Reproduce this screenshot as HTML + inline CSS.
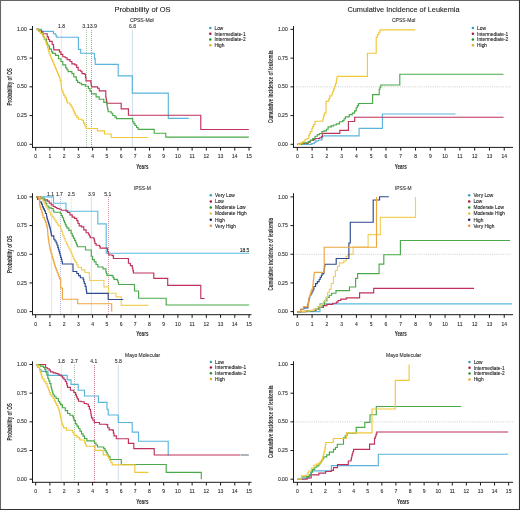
<!DOCTYPE html><html><head><meta charset="utf-8"><style>html,body{margin:0;padding:0;background:#fff;}svg{display:block;will-change:transform;}text{font-family:"Liberation Sans", sans-serif;}</style></head><body>
<svg width="520" height="510" viewBox="0 0 520 510">
<rect x="0" y="0" width="520" height="510" fill="#fff"/>
<text x="142.5" y="12.0" font-size="8.0" text-anchor="middle" fill="#222" font-weight="normal" textLength="56.2" lengthAdjust="spacingAndGlyphs" stroke="#222" stroke-width="0.1">Probability of OS</text>
<text x="403.5" y="12.1" font-size="8.0" text-anchor="middle" fill="#222" font-weight="normal" textLength="112.0" lengthAdjust="spacingAndGlyphs" stroke="#222" stroke-width="0.1">Cumulative Incidence of Leukemia</text>
<line x1="32.5" y1="26.0" x2="32.5" y2="147.9" stroke="#1a1a1a" stroke-width="1"/>
<line x1="32.0" y1="147.4" x2="251.5" y2="147.4" stroke="#1a1a1a" stroke-width="1"/>
<line x1="29.5" y1="144.30" x2="32.5" y2="144.30" stroke="#1a1a1a" stroke-width="1"/>
<text x="26.7" y="145.90" font-size="5" text-anchor="end" fill="#333" font-weight="normal" stroke="#333" stroke-width="0.12">0.00</text>
<line x1="29.5" y1="115.58" x2="32.5" y2="115.58" stroke="#1a1a1a" stroke-width="1"/>
<text x="26.7" y="117.18" font-size="5" text-anchor="end" fill="#333" font-weight="normal" stroke="#333" stroke-width="0.12">0.25</text>
<line x1="29.5" y1="86.85" x2="32.5" y2="86.85" stroke="#1a1a1a" stroke-width="1"/>
<text x="26.7" y="88.45" font-size="5" text-anchor="end" fill="#333" font-weight="normal" stroke="#333" stroke-width="0.12">0.50</text>
<line x1="29.5" y1="58.12" x2="32.5" y2="58.12" stroke="#1a1a1a" stroke-width="1"/>
<text x="26.7" y="59.73" font-size="5" text-anchor="end" fill="#333" font-weight="normal" stroke="#333" stroke-width="0.12">0.75</text>
<line x1="29.5" y1="29.40" x2="32.5" y2="29.40" stroke="#1a1a1a" stroke-width="1"/>
<text x="26.7" y="31.00" font-size="5" text-anchor="end" fill="#333" font-weight="normal" stroke="#333" stroke-width="0.12">1.00</text>
<line x1="35.70" y1="147.4" x2="35.70" y2="150.6" stroke="#1a1a1a" stroke-width="1"/>
<text x="35.70" y="158.30" font-size="5" text-anchor="middle" fill="#333" font-weight="normal" stroke="#333" stroke-width="0.12">0</text>
<line x1="49.92" y1="147.4" x2="49.92" y2="150.6" stroke="#1a1a1a" stroke-width="1"/>
<text x="49.92" y="158.30" font-size="5" text-anchor="middle" fill="#333" font-weight="normal" stroke="#333" stroke-width="0.12">1</text>
<line x1="64.14" y1="147.4" x2="64.14" y2="150.6" stroke="#1a1a1a" stroke-width="1"/>
<text x="64.14" y="158.30" font-size="5" text-anchor="middle" fill="#333" font-weight="normal" stroke="#333" stroke-width="0.12">2</text>
<line x1="78.36" y1="147.4" x2="78.36" y2="150.6" stroke="#1a1a1a" stroke-width="1"/>
<text x="78.36" y="158.30" font-size="5" text-anchor="middle" fill="#333" font-weight="normal" stroke="#333" stroke-width="0.12">3</text>
<line x1="92.58" y1="147.4" x2="92.58" y2="150.6" stroke="#1a1a1a" stroke-width="1"/>
<text x="92.58" y="158.30" font-size="5" text-anchor="middle" fill="#333" font-weight="normal" stroke="#333" stroke-width="0.12">4</text>
<line x1="106.80" y1="147.4" x2="106.80" y2="150.6" stroke="#1a1a1a" stroke-width="1"/>
<text x="106.80" y="158.30" font-size="5" text-anchor="middle" fill="#333" font-weight="normal" stroke="#333" stroke-width="0.12">5</text>
<line x1="121.02" y1="147.4" x2="121.02" y2="150.6" stroke="#1a1a1a" stroke-width="1"/>
<text x="121.02" y="158.30" font-size="5" text-anchor="middle" fill="#333" font-weight="normal" stroke="#333" stroke-width="0.12">6</text>
<line x1="135.24" y1="147.4" x2="135.24" y2="150.6" stroke="#1a1a1a" stroke-width="1"/>
<text x="135.24" y="158.30" font-size="5" text-anchor="middle" fill="#333" font-weight="normal" stroke="#333" stroke-width="0.12">7</text>
<line x1="149.46" y1="147.4" x2="149.46" y2="150.6" stroke="#1a1a1a" stroke-width="1"/>
<text x="149.46" y="158.30" font-size="5" text-anchor="middle" fill="#333" font-weight="normal" stroke="#333" stroke-width="0.12">8</text>
<line x1="163.68" y1="147.4" x2="163.68" y2="150.6" stroke="#1a1a1a" stroke-width="1"/>
<text x="163.68" y="158.30" font-size="5" text-anchor="middle" fill="#333" font-weight="normal" stroke="#333" stroke-width="0.12">9</text>
<line x1="177.90" y1="147.4" x2="177.90" y2="150.6" stroke="#1a1a1a" stroke-width="1"/>
<text x="177.90" y="158.30" font-size="5" text-anchor="middle" fill="#333" font-weight="normal" stroke="#333" stroke-width="0.12">10</text>
<line x1="192.12" y1="147.4" x2="192.12" y2="150.6" stroke="#1a1a1a" stroke-width="1"/>
<text x="192.12" y="158.30" font-size="5" text-anchor="middle" fill="#333" font-weight="normal" stroke="#333" stroke-width="0.12">11</text>
<line x1="206.34" y1="147.4" x2="206.34" y2="150.6" stroke="#1a1a1a" stroke-width="1"/>
<text x="206.34" y="158.30" font-size="5" text-anchor="middle" fill="#333" font-weight="normal" stroke="#333" stroke-width="0.12">12</text>
<line x1="220.56" y1="147.4" x2="220.56" y2="150.6" stroke="#1a1a1a" stroke-width="1"/>
<text x="220.56" y="158.30" font-size="5" text-anchor="middle" fill="#333" font-weight="normal" stroke="#333" stroke-width="0.12">13</text>
<line x1="234.78" y1="147.4" x2="234.78" y2="150.6" stroke="#1a1a1a" stroke-width="1"/>
<text x="234.78" y="158.30" font-size="5" text-anchor="middle" fill="#333" font-weight="normal" stroke="#333" stroke-width="0.12">14</text>
<line x1="249.00" y1="147.4" x2="249.00" y2="150.6" stroke="#1a1a1a" stroke-width="1"/>
<text x="249.00" y="158.30" font-size="5" text-anchor="middle" fill="#333" font-weight="normal" stroke="#333" stroke-width="0.12">15</text>
<text x="142.35" y="168.70" font-size="6.6" text-anchor="middle" fill="#222" font-weight="bold" textLength="12.2" lengthAdjust="spacingAndGlyphs">Years</text>
<text x="0" y="0" font-size="6.3" text-anchor="middle" fill="#2a2a2a" font-weight="bold" textLength="37.3" lengthAdjust="spacingAndGlyphs" transform="translate(11.90,86.85) rotate(-90)">Probability of OS</text>
<line x1="293.5" y1="26.0" x2="293.5" y2="147.9" stroke="#1a1a1a" stroke-width="1"/>
<line x1="293.0" y1="147.4" x2="513.0" y2="147.4" stroke="#1a1a1a" stroke-width="1"/>
<line x1="290.5" y1="144.30" x2="293.5" y2="144.30" stroke="#1a1a1a" stroke-width="1"/>
<text x="287.7" y="145.90" font-size="5" text-anchor="end" fill="#333" font-weight="normal" stroke="#333" stroke-width="0.12">0.00</text>
<line x1="290.5" y1="115.58" x2="293.5" y2="115.58" stroke="#1a1a1a" stroke-width="1"/>
<text x="287.7" y="117.18" font-size="5" text-anchor="end" fill="#333" font-weight="normal" stroke="#333" stroke-width="0.12">0.25</text>
<line x1="290.5" y1="86.85" x2="293.5" y2="86.85" stroke="#1a1a1a" stroke-width="1"/>
<text x="287.7" y="88.45" font-size="5" text-anchor="end" fill="#333" font-weight="normal" stroke="#333" stroke-width="0.12">0.50</text>
<line x1="290.5" y1="58.12" x2="293.5" y2="58.12" stroke="#1a1a1a" stroke-width="1"/>
<text x="287.7" y="59.73" font-size="5" text-anchor="end" fill="#333" font-weight="normal" stroke="#333" stroke-width="0.12">0.75</text>
<line x1="290.5" y1="29.40" x2="293.5" y2="29.40" stroke="#1a1a1a" stroke-width="1"/>
<text x="287.7" y="31.00" font-size="5" text-anchor="end" fill="#333" font-weight="normal" stroke="#333" stroke-width="0.12">1.00</text>
<line x1="297.30" y1="147.4" x2="297.30" y2="150.6" stroke="#1a1a1a" stroke-width="1"/>
<text x="297.30" y="158.30" font-size="5" text-anchor="middle" fill="#333" font-weight="normal" stroke="#333" stroke-width="0.12">0</text>
<line x1="312.08" y1="147.4" x2="312.08" y2="150.6" stroke="#1a1a1a" stroke-width="1"/>
<text x="312.08" y="158.30" font-size="5" text-anchor="middle" fill="#333" font-weight="normal" stroke="#333" stroke-width="0.12">1</text>
<line x1="326.86" y1="147.4" x2="326.86" y2="150.6" stroke="#1a1a1a" stroke-width="1"/>
<text x="326.86" y="158.30" font-size="5" text-anchor="middle" fill="#333" font-weight="normal" stroke="#333" stroke-width="0.12">2</text>
<line x1="341.64" y1="147.4" x2="341.64" y2="150.6" stroke="#1a1a1a" stroke-width="1"/>
<text x="341.64" y="158.30" font-size="5" text-anchor="middle" fill="#333" font-weight="normal" stroke="#333" stroke-width="0.12">3</text>
<line x1="356.42" y1="147.4" x2="356.42" y2="150.6" stroke="#1a1a1a" stroke-width="1"/>
<text x="356.42" y="158.30" font-size="5" text-anchor="middle" fill="#333" font-weight="normal" stroke="#333" stroke-width="0.12">4</text>
<line x1="371.20" y1="147.4" x2="371.20" y2="150.6" stroke="#1a1a1a" stroke-width="1"/>
<text x="371.20" y="158.30" font-size="5" text-anchor="middle" fill="#333" font-weight="normal" stroke="#333" stroke-width="0.12">5</text>
<line x1="385.98" y1="147.4" x2="385.98" y2="150.6" stroke="#1a1a1a" stroke-width="1"/>
<text x="385.98" y="158.30" font-size="5" text-anchor="middle" fill="#333" font-weight="normal" stroke="#333" stroke-width="0.12">6</text>
<line x1="400.76" y1="147.4" x2="400.76" y2="150.6" stroke="#1a1a1a" stroke-width="1"/>
<text x="400.76" y="158.30" font-size="5" text-anchor="middle" fill="#333" font-weight="normal" stroke="#333" stroke-width="0.12">7</text>
<line x1="415.54" y1="147.4" x2="415.54" y2="150.6" stroke="#1a1a1a" stroke-width="1"/>
<text x="415.54" y="158.30" font-size="5" text-anchor="middle" fill="#333" font-weight="normal" stroke="#333" stroke-width="0.12">8</text>
<line x1="430.32" y1="147.4" x2="430.32" y2="150.6" stroke="#1a1a1a" stroke-width="1"/>
<text x="430.32" y="158.30" font-size="5" text-anchor="middle" fill="#333" font-weight="normal" stroke="#333" stroke-width="0.12">9</text>
<line x1="445.10" y1="147.4" x2="445.10" y2="150.6" stroke="#1a1a1a" stroke-width="1"/>
<text x="445.10" y="158.30" font-size="5" text-anchor="middle" fill="#333" font-weight="normal" stroke="#333" stroke-width="0.12">10</text>
<line x1="459.88" y1="147.4" x2="459.88" y2="150.6" stroke="#1a1a1a" stroke-width="1"/>
<text x="459.88" y="158.30" font-size="5" text-anchor="middle" fill="#333" font-weight="normal" stroke="#333" stroke-width="0.12">11</text>
<line x1="474.66" y1="147.4" x2="474.66" y2="150.6" stroke="#1a1a1a" stroke-width="1"/>
<text x="474.66" y="158.30" font-size="5" text-anchor="middle" fill="#333" font-weight="normal" stroke="#333" stroke-width="0.12">12</text>
<line x1="489.44" y1="147.4" x2="489.44" y2="150.6" stroke="#1a1a1a" stroke-width="1"/>
<text x="489.44" y="158.30" font-size="5" text-anchor="middle" fill="#333" font-weight="normal" stroke="#333" stroke-width="0.12">13</text>
<line x1="504.22" y1="147.4" x2="504.22" y2="150.6" stroke="#1a1a1a" stroke-width="1"/>
<text x="504.22" y="158.30" font-size="5" text-anchor="middle" fill="#333" font-weight="normal" stroke="#333" stroke-width="0.12">14</text>
<text x="400.76" y="168.70" font-size="6.6" text-anchor="middle" fill="#222" font-weight="bold" textLength="12.2" lengthAdjust="spacingAndGlyphs">Years</text>
<text x="0" y="0" font-size="6.3" text-anchor="middle" fill="#2a2a2a" font-weight="bold" textLength="72.5" lengthAdjust="spacingAndGlyphs" transform="translate(272.50,86.85) rotate(-90)">Cumulative incidence of leukemia</text>
<line x1="32.5" y1="193.2" x2="32.5" y2="315.2" stroke="#1a1a1a" stroke-width="1"/>
<line x1="32.0" y1="314.7" x2="251.5" y2="314.7" stroke="#1a1a1a" stroke-width="1"/>
<line x1="29.5" y1="311.60" x2="32.5" y2="311.60" stroke="#1a1a1a" stroke-width="1"/>
<text x="26.7" y="313.20" font-size="5" text-anchor="end" fill="#333" font-weight="normal" stroke="#333" stroke-width="0.12">0.00</text>
<line x1="29.5" y1="282.93" x2="32.5" y2="282.93" stroke="#1a1a1a" stroke-width="1"/>
<text x="26.7" y="284.53" font-size="5" text-anchor="end" fill="#333" font-weight="normal" stroke="#333" stroke-width="0.12">0.25</text>
<line x1="29.5" y1="254.25" x2="32.5" y2="254.25" stroke="#1a1a1a" stroke-width="1"/>
<text x="26.7" y="255.85" font-size="5" text-anchor="end" fill="#333" font-weight="normal" stroke="#333" stroke-width="0.12">0.50</text>
<line x1="29.5" y1="225.58" x2="32.5" y2="225.58" stroke="#1a1a1a" stroke-width="1"/>
<text x="26.7" y="227.18" font-size="5" text-anchor="end" fill="#333" font-weight="normal" stroke="#333" stroke-width="0.12">0.75</text>
<line x1="29.5" y1="196.90" x2="32.5" y2="196.90" stroke="#1a1a1a" stroke-width="1"/>
<text x="26.7" y="198.50" font-size="5" text-anchor="end" fill="#333" font-weight="normal" stroke="#333" stroke-width="0.12">1.00</text>
<line x1="35.70" y1="314.7" x2="35.70" y2="317.9" stroke="#1a1a1a" stroke-width="1"/>
<text x="35.70" y="325.60" font-size="5" text-anchor="middle" fill="#333" font-weight="normal" stroke="#333" stroke-width="0.12">0</text>
<line x1="49.92" y1="314.7" x2="49.92" y2="317.9" stroke="#1a1a1a" stroke-width="1"/>
<text x="49.92" y="325.60" font-size="5" text-anchor="middle" fill="#333" font-weight="normal" stroke="#333" stroke-width="0.12">1</text>
<line x1="64.14" y1="314.7" x2="64.14" y2="317.9" stroke="#1a1a1a" stroke-width="1"/>
<text x="64.14" y="325.60" font-size="5" text-anchor="middle" fill="#333" font-weight="normal" stroke="#333" stroke-width="0.12">2</text>
<line x1="78.36" y1="314.7" x2="78.36" y2="317.9" stroke="#1a1a1a" stroke-width="1"/>
<text x="78.36" y="325.60" font-size="5" text-anchor="middle" fill="#333" font-weight="normal" stroke="#333" stroke-width="0.12">3</text>
<line x1="92.58" y1="314.7" x2="92.58" y2="317.9" stroke="#1a1a1a" stroke-width="1"/>
<text x="92.58" y="325.60" font-size="5" text-anchor="middle" fill="#333" font-weight="normal" stroke="#333" stroke-width="0.12">4</text>
<line x1="106.80" y1="314.7" x2="106.80" y2="317.9" stroke="#1a1a1a" stroke-width="1"/>
<text x="106.80" y="325.60" font-size="5" text-anchor="middle" fill="#333" font-weight="normal" stroke="#333" stroke-width="0.12">5</text>
<line x1="121.02" y1="314.7" x2="121.02" y2="317.9" stroke="#1a1a1a" stroke-width="1"/>
<text x="121.02" y="325.60" font-size="5" text-anchor="middle" fill="#333" font-weight="normal" stroke="#333" stroke-width="0.12">6</text>
<line x1="135.24" y1="314.7" x2="135.24" y2="317.9" stroke="#1a1a1a" stroke-width="1"/>
<text x="135.24" y="325.60" font-size="5" text-anchor="middle" fill="#333" font-weight="normal" stroke="#333" stroke-width="0.12">7</text>
<line x1="149.46" y1="314.7" x2="149.46" y2="317.9" stroke="#1a1a1a" stroke-width="1"/>
<text x="149.46" y="325.60" font-size="5" text-anchor="middle" fill="#333" font-weight="normal" stroke="#333" stroke-width="0.12">8</text>
<line x1="163.68" y1="314.7" x2="163.68" y2="317.9" stroke="#1a1a1a" stroke-width="1"/>
<text x="163.68" y="325.60" font-size="5" text-anchor="middle" fill="#333" font-weight="normal" stroke="#333" stroke-width="0.12">9</text>
<line x1="177.90" y1="314.7" x2="177.90" y2="317.9" stroke="#1a1a1a" stroke-width="1"/>
<text x="177.90" y="325.60" font-size="5" text-anchor="middle" fill="#333" font-weight="normal" stroke="#333" stroke-width="0.12">10</text>
<line x1="192.12" y1="314.7" x2="192.12" y2="317.9" stroke="#1a1a1a" stroke-width="1"/>
<text x="192.12" y="325.60" font-size="5" text-anchor="middle" fill="#333" font-weight="normal" stroke="#333" stroke-width="0.12">11</text>
<line x1="206.34" y1="314.7" x2="206.34" y2="317.9" stroke="#1a1a1a" stroke-width="1"/>
<text x="206.34" y="325.60" font-size="5" text-anchor="middle" fill="#333" font-weight="normal" stroke="#333" stroke-width="0.12">12</text>
<line x1="220.56" y1="314.7" x2="220.56" y2="317.9" stroke="#1a1a1a" stroke-width="1"/>
<text x="220.56" y="325.60" font-size="5" text-anchor="middle" fill="#333" font-weight="normal" stroke="#333" stroke-width="0.12">13</text>
<line x1="234.78" y1="314.7" x2="234.78" y2="317.9" stroke="#1a1a1a" stroke-width="1"/>
<text x="234.78" y="325.60" font-size="5" text-anchor="middle" fill="#333" font-weight="normal" stroke="#333" stroke-width="0.12">14</text>
<line x1="249.00" y1="314.7" x2="249.00" y2="317.9" stroke="#1a1a1a" stroke-width="1"/>
<text x="249.00" y="325.60" font-size="5" text-anchor="middle" fill="#333" font-weight="normal" stroke="#333" stroke-width="0.12">15</text>
<text x="142.35" y="336.00" font-size="6.6" text-anchor="middle" fill="#222" font-weight="bold" textLength="12.2" lengthAdjust="spacingAndGlyphs">Years</text>
<text x="0" y="0" font-size="6.3" text-anchor="middle" fill="#2a2a2a" font-weight="bold" textLength="37.3" lengthAdjust="spacingAndGlyphs" transform="translate(11.90,254.25) rotate(-90)">Probability of OS</text>
<line x1="293.5" y1="193.2" x2="293.5" y2="315.2" stroke="#1a1a1a" stroke-width="1"/>
<line x1="293.0" y1="314.7" x2="513.0" y2="314.7" stroke="#1a1a1a" stroke-width="1"/>
<line x1="290.5" y1="311.60" x2="293.5" y2="311.60" stroke="#1a1a1a" stroke-width="1"/>
<text x="287.7" y="313.20" font-size="5" text-anchor="end" fill="#333" font-weight="normal" stroke="#333" stroke-width="0.12">0.00</text>
<line x1="290.5" y1="282.93" x2="293.5" y2="282.93" stroke="#1a1a1a" stroke-width="1"/>
<text x="287.7" y="284.53" font-size="5" text-anchor="end" fill="#333" font-weight="normal" stroke="#333" stroke-width="0.12">0.25</text>
<line x1="290.5" y1="254.25" x2="293.5" y2="254.25" stroke="#1a1a1a" stroke-width="1"/>
<text x="287.7" y="255.85" font-size="5" text-anchor="end" fill="#333" font-weight="normal" stroke="#333" stroke-width="0.12">0.50</text>
<line x1="290.5" y1="225.58" x2="293.5" y2="225.58" stroke="#1a1a1a" stroke-width="1"/>
<text x="287.7" y="227.18" font-size="5" text-anchor="end" fill="#333" font-weight="normal" stroke="#333" stroke-width="0.12">0.75</text>
<line x1="290.5" y1="196.90" x2="293.5" y2="196.90" stroke="#1a1a1a" stroke-width="1"/>
<text x="287.7" y="198.50" font-size="5" text-anchor="end" fill="#333" font-weight="normal" stroke="#333" stroke-width="0.12">1.00</text>
<line x1="297.30" y1="314.7" x2="297.30" y2="317.9" stroke="#1a1a1a" stroke-width="1"/>
<text x="297.30" y="325.60" font-size="5" text-anchor="middle" fill="#333" font-weight="normal" stroke="#333" stroke-width="0.12">0</text>
<line x1="312.08" y1="314.7" x2="312.08" y2="317.9" stroke="#1a1a1a" stroke-width="1"/>
<text x="312.08" y="325.60" font-size="5" text-anchor="middle" fill="#333" font-weight="normal" stroke="#333" stroke-width="0.12">1</text>
<line x1="326.86" y1="314.7" x2="326.86" y2="317.9" stroke="#1a1a1a" stroke-width="1"/>
<text x="326.86" y="325.60" font-size="5" text-anchor="middle" fill="#333" font-weight="normal" stroke="#333" stroke-width="0.12">2</text>
<line x1="341.64" y1="314.7" x2="341.64" y2="317.9" stroke="#1a1a1a" stroke-width="1"/>
<text x="341.64" y="325.60" font-size="5" text-anchor="middle" fill="#333" font-weight="normal" stroke="#333" stroke-width="0.12">3</text>
<line x1="356.42" y1="314.7" x2="356.42" y2="317.9" stroke="#1a1a1a" stroke-width="1"/>
<text x="356.42" y="325.60" font-size="5" text-anchor="middle" fill="#333" font-weight="normal" stroke="#333" stroke-width="0.12">4</text>
<line x1="371.20" y1="314.7" x2="371.20" y2="317.9" stroke="#1a1a1a" stroke-width="1"/>
<text x="371.20" y="325.60" font-size="5" text-anchor="middle" fill="#333" font-weight="normal" stroke="#333" stroke-width="0.12">5</text>
<line x1="385.98" y1="314.7" x2="385.98" y2="317.9" stroke="#1a1a1a" stroke-width="1"/>
<text x="385.98" y="325.60" font-size="5" text-anchor="middle" fill="#333" font-weight="normal" stroke="#333" stroke-width="0.12">6</text>
<line x1="400.76" y1="314.7" x2="400.76" y2="317.9" stroke="#1a1a1a" stroke-width="1"/>
<text x="400.76" y="325.60" font-size="5" text-anchor="middle" fill="#333" font-weight="normal" stroke="#333" stroke-width="0.12">7</text>
<line x1="415.54" y1="314.7" x2="415.54" y2="317.9" stroke="#1a1a1a" stroke-width="1"/>
<text x="415.54" y="325.60" font-size="5" text-anchor="middle" fill="#333" font-weight="normal" stroke="#333" stroke-width="0.12">8</text>
<line x1="430.32" y1="314.7" x2="430.32" y2="317.9" stroke="#1a1a1a" stroke-width="1"/>
<text x="430.32" y="325.60" font-size="5" text-anchor="middle" fill="#333" font-weight="normal" stroke="#333" stroke-width="0.12">9</text>
<line x1="445.10" y1="314.7" x2="445.10" y2="317.9" stroke="#1a1a1a" stroke-width="1"/>
<text x="445.10" y="325.60" font-size="5" text-anchor="middle" fill="#333" font-weight="normal" stroke="#333" stroke-width="0.12">10</text>
<line x1="459.88" y1="314.7" x2="459.88" y2="317.9" stroke="#1a1a1a" stroke-width="1"/>
<text x="459.88" y="325.60" font-size="5" text-anchor="middle" fill="#333" font-weight="normal" stroke="#333" stroke-width="0.12">11</text>
<line x1="474.66" y1="314.7" x2="474.66" y2="317.9" stroke="#1a1a1a" stroke-width="1"/>
<text x="474.66" y="325.60" font-size="5" text-anchor="middle" fill="#333" font-weight="normal" stroke="#333" stroke-width="0.12">12</text>
<line x1="489.44" y1="314.7" x2="489.44" y2="317.9" stroke="#1a1a1a" stroke-width="1"/>
<text x="489.44" y="325.60" font-size="5" text-anchor="middle" fill="#333" font-weight="normal" stroke="#333" stroke-width="0.12">13</text>
<line x1="504.22" y1="314.7" x2="504.22" y2="317.9" stroke="#1a1a1a" stroke-width="1"/>
<text x="504.22" y="325.60" font-size="5" text-anchor="middle" fill="#333" font-weight="normal" stroke="#333" stroke-width="0.12">14</text>
<text x="400.76" y="336.00" font-size="6.6" text-anchor="middle" fill="#222" font-weight="bold" textLength="12.2" lengthAdjust="spacingAndGlyphs">Years</text>
<text x="0" y="0" font-size="6.3" text-anchor="middle" fill="#2a2a2a" font-weight="bold" textLength="72.5" lengthAdjust="spacingAndGlyphs" transform="translate(272.50,254.25) rotate(-90)">Cumulative incidence of leukemia</text>
<line x1="32.5" y1="361.3" x2="32.5" y2="482.8" stroke="#1a1a1a" stroke-width="1"/>
<line x1="32.0" y1="482.3" x2="251.5" y2="482.3" stroke="#1a1a1a" stroke-width="1"/>
<line x1="29.5" y1="479.20" x2="32.5" y2="479.20" stroke="#1a1a1a" stroke-width="1"/>
<text x="26.7" y="480.80" font-size="5" text-anchor="end" fill="#333" font-weight="normal" stroke="#333" stroke-width="0.12">0.00</text>
<line x1="29.5" y1="450.52" x2="32.5" y2="450.52" stroke="#1a1a1a" stroke-width="1"/>
<text x="26.7" y="452.12" font-size="5" text-anchor="end" fill="#333" font-weight="normal" stroke="#333" stroke-width="0.12">0.25</text>
<line x1="29.5" y1="421.85" x2="32.5" y2="421.85" stroke="#1a1a1a" stroke-width="1"/>
<text x="26.7" y="423.45" font-size="5" text-anchor="end" fill="#333" font-weight="normal" stroke="#333" stroke-width="0.12">0.50</text>
<line x1="29.5" y1="393.18" x2="32.5" y2="393.18" stroke="#1a1a1a" stroke-width="1"/>
<text x="26.7" y="394.78" font-size="5" text-anchor="end" fill="#333" font-weight="normal" stroke="#333" stroke-width="0.12">0.75</text>
<line x1="29.5" y1="364.50" x2="32.5" y2="364.50" stroke="#1a1a1a" stroke-width="1"/>
<text x="26.7" y="366.10" font-size="5" text-anchor="end" fill="#333" font-weight="normal" stroke="#333" stroke-width="0.12">1.00</text>
<line x1="35.70" y1="482.3" x2="35.70" y2="485.5" stroke="#1a1a1a" stroke-width="1"/>
<text x="35.70" y="493.20" font-size="5" text-anchor="middle" fill="#333" font-weight="normal" stroke="#333" stroke-width="0.12">0</text>
<line x1="49.92" y1="482.3" x2="49.92" y2="485.5" stroke="#1a1a1a" stroke-width="1"/>
<text x="49.92" y="493.20" font-size="5" text-anchor="middle" fill="#333" font-weight="normal" stroke="#333" stroke-width="0.12">1</text>
<line x1="64.14" y1="482.3" x2="64.14" y2="485.5" stroke="#1a1a1a" stroke-width="1"/>
<text x="64.14" y="493.20" font-size="5" text-anchor="middle" fill="#333" font-weight="normal" stroke="#333" stroke-width="0.12">2</text>
<line x1="78.36" y1="482.3" x2="78.36" y2="485.5" stroke="#1a1a1a" stroke-width="1"/>
<text x="78.36" y="493.20" font-size="5" text-anchor="middle" fill="#333" font-weight="normal" stroke="#333" stroke-width="0.12">3</text>
<line x1="92.58" y1="482.3" x2="92.58" y2="485.5" stroke="#1a1a1a" stroke-width="1"/>
<text x="92.58" y="493.20" font-size="5" text-anchor="middle" fill="#333" font-weight="normal" stroke="#333" stroke-width="0.12">4</text>
<line x1="106.80" y1="482.3" x2="106.80" y2="485.5" stroke="#1a1a1a" stroke-width="1"/>
<text x="106.80" y="493.20" font-size="5" text-anchor="middle" fill="#333" font-weight="normal" stroke="#333" stroke-width="0.12">5</text>
<line x1="121.02" y1="482.3" x2="121.02" y2="485.5" stroke="#1a1a1a" stroke-width="1"/>
<text x="121.02" y="493.20" font-size="5" text-anchor="middle" fill="#333" font-weight="normal" stroke="#333" stroke-width="0.12">6</text>
<line x1="135.24" y1="482.3" x2="135.24" y2="485.5" stroke="#1a1a1a" stroke-width="1"/>
<text x="135.24" y="493.20" font-size="5" text-anchor="middle" fill="#333" font-weight="normal" stroke="#333" stroke-width="0.12">7</text>
<line x1="149.46" y1="482.3" x2="149.46" y2="485.5" stroke="#1a1a1a" stroke-width="1"/>
<text x="149.46" y="493.20" font-size="5" text-anchor="middle" fill="#333" font-weight="normal" stroke="#333" stroke-width="0.12">8</text>
<line x1="163.68" y1="482.3" x2="163.68" y2="485.5" stroke="#1a1a1a" stroke-width="1"/>
<text x="163.68" y="493.20" font-size="5" text-anchor="middle" fill="#333" font-weight="normal" stroke="#333" stroke-width="0.12">9</text>
<line x1="177.90" y1="482.3" x2="177.90" y2="485.5" stroke="#1a1a1a" stroke-width="1"/>
<text x="177.90" y="493.20" font-size="5" text-anchor="middle" fill="#333" font-weight="normal" stroke="#333" stroke-width="0.12">10</text>
<line x1="192.12" y1="482.3" x2="192.12" y2="485.5" stroke="#1a1a1a" stroke-width="1"/>
<text x="192.12" y="493.20" font-size="5" text-anchor="middle" fill="#333" font-weight="normal" stroke="#333" stroke-width="0.12">11</text>
<line x1="206.34" y1="482.3" x2="206.34" y2="485.5" stroke="#1a1a1a" stroke-width="1"/>
<text x="206.34" y="493.20" font-size="5" text-anchor="middle" fill="#333" font-weight="normal" stroke="#333" stroke-width="0.12">12</text>
<line x1="220.56" y1="482.3" x2="220.56" y2="485.5" stroke="#1a1a1a" stroke-width="1"/>
<text x="220.56" y="493.20" font-size="5" text-anchor="middle" fill="#333" font-weight="normal" stroke="#333" stroke-width="0.12">13</text>
<line x1="234.78" y1="482.3" x2="234.78" y2="485.5" stroke="#1a1a1a" stroke-width="1"/>
<text x="234.78" y="493.20" font-size="5" text-anchor="middle" fill="#333" font-weight="normal" stroke="#333" stroke-width="0.12">14</text>
<line x1="249.00" y1="482.3" x2="249.00" y2="485.5" stroke="#1a1a1a" stroke-width="1"/>
<text x="249.00" y="493.20" font-size="5" text-anchor="middle" fill="#333" font-weight="normal" stroke="#333" stroke-width="0.12">15</text>
<text x="142.35" y="503.60" font-size="6.6" text-anchor="middle" fill="#222" font-weight="bold" textLength="12.2" lengthAdjust="spacingAndGlyphs">Years</text>
<text x="0" y="0" font-size="6.3" text-anchor="middle" fill="#2a2a2a" font-weight="bold" textLength="37.3" lengthAdjust="spacingAndGlyphs" transform="translate(11.90,421.85) rotate(-90)">Probability of OS</text>
<line x1="293.5" y1="361.3" x2="293.5" y2="482.8" stroke="#1a1a1a" stroke-width="1"/>
<line x1="293.0" y1="482.3" x2="513.0" y2="482.3" stroke="#1a1a1a" stroke-width="1"/>
<line x1="290.5" y1="479.20" x2="293.5" y2="479.20" stroke="#1a1a1a" stroke-width="1"/>
<text x="287.7" y="480.80" font-size="5" text-anchor="end" fill="#333" font-weight="normal" stroke="#333" stroke-width="0.12">0.00</text>
<line x1="290.5" y1="450.52" x2="293.5" y2="450.52" stroke="#1a1a1a" stroke-width="1"/>
<text x="287.7" y="452.12" font-size="5" text-anchor="end" fill="#333" font-weight="normal" stroke="#333" stroke-width="0.12">0.25</text>
<line x1="290.5" y1="421.85" x2="293.5" y2="421.85" stroke="#1a1a1a" stroke-width="1"/>
<text x="287.7" y="423.45" font-size="5" text-anchor="end" fill="#333" font-weight="normal" stroke="#333" stroke-width="0.12">0.50</text>
<line x1="290.5" y1="393.18" x2="293.5" y2="393.18" stroke="#1a1a1a" stroke-width="1"/>
<text x="287.7" y="394.78" font-size="5" text-anchor="end" fill="#333" font-weight="normal" stroke="#333" stroke-width="0.12">0.75</text>
<line x1="290.5" y1="364.50" x2="293.5" y2="364.50" stroke="#1a1a1a" stroke-width="1"/>
<text x="287.7" y="366.10" font-size="5" text-anchor="end" fill="#333" font-weight="normal" stroke="#333" stroke-width="0.12">1.00</text>
<line x1="297.30" y1="482.3" x2="297.30" y2="485.5" stroke="#1a1a1a" stroke-width="1"/>
<text x="297.30" y="493.20" font-size="5" text-anchor="middle" fill="#333" font-weight="normal" stroke="#333" stroke-width="0.12">0</text>
<line x1="311.39" y1="482.3" x2="311.39" y2="485.5" stroke="#1a1a1a" stroke-width="1"/>
<text x="311.39" y="493.20" font-size="5" text-anchor="middle" fill="#333" font-weight="normal" stroke="#333" stroke-width="0.12">1</text>
<line x1="325.48" y1="482.3" x2="325.48" y2="485.5" stroke="#1a1a1a" stroke-width="1"/>
<text x="325.48" y="493.20" font-size="5" text-anchor="middle" fill="#333" font-weight="normal" stroke="#333" stroke-width="0.12">2</text>
<line x1="339.57" y1="482.3" x2="339.57" y2="485.5" stroke="#1a1a1a" stroke-width="1"/>
<text x="339.57" y="493.20" font-size="5" text-anchor="middle" fill="#333" font-weight="normal" stroke="#333" stroke-width="0.12">3</text>
<line x1="353.66" y1="482.3" x2="353.66" y2="485.5" stroke="#1a1a1a" stroke-width="1"/>
<text x="353.66" y="493.20" font-size="5" text-anchor="middle" fill="#333" font-weight="normal" stroke="#333" stroke-width="0.12">4</text>
<line x1="367.75" y1="482.3" x2="367.75" y2="485.5" stroke="#1a1a1a" stroke-width="1"/>
<text x="367.75" y="493.20" font-size="5" text-anchor="middle" fill="#333" font-weight="normal" stroke="#333" stroke-width="0.12">5</text>
<line x1="381.84" y1="482.3" x2="381.84" y2="485.5" stroke="#1a1a1a" stroke-width="1"/>
<text x="381.84" y="493.20" font-size="5" text-anchor="middle" fill="#333" font-weight="normal" stroke="#333" stroke-width="0.12">6</text>
<line x1="395.93" y1="482.3" x2="395.93" y2="485.5" stroke="#1a1a1a" stroke-width="1"/>
<text x="395.93" y="493.20" font-size="5" text-anchor="middle" fill="#333" font-weight="normal" stroke="#333" stroke-width="0.12">7</text>
<line x1="410.02" y1="482.3" x2="410.02" y2="485.5" stroke="#1a1a1a" stroke-width="1"/>
<text x="410.02" y="493.20" font-size="5" text-anchor="middle" fill="#333" font-weight="normal" stroke="#333" stroke-width="0.12">8</text>
<line x1="424.11" y1="482.3" x2="424.11" y2="485.5" stroke="#1a1a1a" stroke-width="1"/>
<text x="424.11" y="493.20" font-size="5" text-anchor="middle" fill="#333" font-weight="normal" stroke="#333" stroke-width="0.12">9</text>
<line x1="438.20" y1="482.3" x2="438.20" y2="485.5" stroke="#1a1a1a" stroke-width="1"/>
<text x="438.20" y="493.20" font-size="5" text-anchor="middle" fill="#333" font-weight="normal" stroke="#333" stroke-width="0.12">10</text>
<line x1="452.29" y1="482.3" x2="452.29" y2="485.5" stroke="#1a1a1a" stroke-width="1"/>
<text x="452.29" y="493.20" font-size="5" text-anchor="middle" fill="#333" font-weight="normal" stroke="#333" stroke-width="0.12">11</text>
<line x1="466.38" y1="482.3" x2="466.38" y2="485.5" stroke="#1a1a1a" stroke-width="1"/>
<text x="466.38" y="493.20" font-size="5" text-anchor="middle" fill="#333" font-weight="normal" stroke="#333" stroke-width="0.12">12</text>
<line x1="480.47" y1="482.3" x2="480.47" y2="485.5" stroke="#1a1a1a" stroke-width="1"/>
<text x="480.47" y="493.20" font-size="5" text-anchor="middle" fill="#333" font-weight="normal" stroke="#333" stroke-width="0.12">13</text>
<line x1="494.56" y1="482.3" x2="494.56" y2="485.5" stroke="#1a1a1a" stroke-width="1"/>
<text x="494.56" y="493.20" font-size="5" text-anchor="middle" fill="#333" font-weight="normal" stroke="#333" stroke-width="0.12">14</text>
<line x1="508.65" y1="482.3" x2="508.65" y2="485.5" stroke="#1a1a1a" stroke-width="1"/>
<text x="508.65" y="493.20" font-size="5" text-anchor="middle" fill="#333" font-weight="normal" stroke="#333" stroke-width="0.12">15</text>
<text x="402.98" y="503.60" font-size="6.6" text-anchor="middle" fill="#222" font-weight="bold" textLength="12.2" lengthAdjust="spacingAndGlyphs">Years</text>
<text x="0" y="0" font-size="6.3" text-anchor="middle" fill="#2a2a2a" font-weight="bold" textLength="72.5" lengthAdjust="spacingAndGlyphs" transform="translate(272.50,421.85) rotate(-90)">Cumulative incidence of leukemia</text>
<line x1="61.4" y1="29.5" x2="61.4" y2="147" stroke="#ece0b8" stroke-width="0.7" opacity="1"/>
<line x1="86.5" y1="30" x2="86.5" y2="147" stroke="#a8c8a8" stroke-width="1" stroke-dasharray="1,1" opacity="1"/>
<line x1="91.5" y1="30" x2="91.5" y2="147" stroke="#d08898" stroke-width="1" stroke-dasharray="1,1" opacity="1"/>
<line x1="132.4" y1="29.5" x2="132.4" y2="147" stroke="#a8c8dc" stroke-width="0.6" opacity="1"/>
<path d="M36.30,29.40H41.50V31.40H53.40V33.70H55.30V34.50H56.10V36.40H56.80V37.20H78.40V49.40H80.70V53.20H94.50V58.60H95.20V64.30H118.20V75.80H132.30V93.10H168.30V118.40H188.70" fill="none" stroke="#5ab4dc" stroke-width="1.15" stroke-linejoin="miter"/>
<path d="M36.30,29.40H38.50V30.50H41.50V31.80H43.00V33.70H47.20V36.80H48.40V39.50H49.50V41.40H52.20V44.50H53.40V46.00H53.60V47.90H53.80V49.80H59.40V51.90H60.90V54.30H62.80V56.70H65.20V57.70H67.10V59.60H70.00V61.50H71.90V63.90H74.80V64.90H76.70V67.30H78.20V70.20H80.60V71.20H82.00V73.60H84.90V74.50H85.60V77.50H86.00V80.80H90.90V83.20H91.20V85.05H91.50V86.90H97.60V88.20H99.20V90.90H105.80V97.00H106.13V99.07H106.47V101.13H106.80V103.20H121.20V108.90H128.40V115.20H200.80V129.50H248.80" fill="none" stroke="#c0305a" stroke-width="1.15" stroke-linejoin="miter"/>
<path d="M36.30,29.40H38.50V30.80H40.35V32.65H42.20V34.50H43.35V36.80H44.50V39.10H46.50V42.50H47.25V44.25H48.00V46.00H49.50V49.10H51.50V51.80H52.70V53.40H55.60V55.30H58.50V58.70H60.90V61.50H62.80V64.90H65.70V67.80H66.90V69.70H68.10V71.60H71.90V73.60H73.80V76.90H76.30V80.30H77.60V82.30H79.60V83.20H81.50V84.60H85.30V86.20H88.40V88.50H89.95V91.15H91.50V93.80H96.10V96.90H99.20V99.20H103.80V102.30H106.80V104.60H107.23V106.97H107.67V109.33H108.10V111.70H111.20V113.20H112.70V115.50H115.00V117.10H116.50V118.60H132.70V121.70H133.85V123.60H135.00V125.50H136.55V127.45H138.10V129.40H154.20V133.20H165.80V137.10H248.80" fill="none" stroke="#4aaa4a" stroke-width="1.15" stroke-linejoin="miter"/>
<path d="M36.30,29.40H38.00V31.00H40.50V33.50H43.00V36.00H44.15V38.70H45.30V41.40H46.07V43.43H46.83V45.47H47.60V47.50H48.13V49.57H48.67V51.63H49.20V53.70H50.00V55.70H50.80V57.70H51.77V59.93H52.73V62.17H53.70V64.40H54.63V66.67H55.57V68.93H56.50V71.20H57.47V73.43H58.43V75.67H59.40V77.90H60.15V80.30H60.90V82.70H61.10V84.87H61.30V87.03H61.50V89.20H62.27V91.27H63.03V93.33H63.80V95.40H64.95V97.30H66.10V99.20H66.70V101.10H67.30V103.00H69.90V104.50H71.05V106.50H72.20V108.50H73.23V110.80H74.27V113.10H75.30V115.40H76.85V117.30H78.40V119.20H82.20V120.50H83.50V123.17H84.80V125.83H86.10V128.50H97.40V130.80H104.50V134.00H111.20V137.50H148.10" fill="none" stroke="#f0c83a" stroke-width="1.15" stroke-linejoin="miter"/>
<text x="61.5" y="27.6" font-size="5" text-anchor="middle" fill="#333" font-weight="normal" stroke="#333" stroke-width="0.1">1.8</text>
<text x="89.65" y="27.6" font-size="5" text-anchor="middle" fill="#333" font-weight="normal" textLength="14.9" lengthAdjust="spacingAndGlyphs" stroke="#333" stroke-width="0.1">3.13.9</text>
<text x="132.5" y="27.6" font-size="5" text-anchor="middle" fill="#333" font-weight="normal" stroke="#333" stroke-width="0.1">6.8</text>
<text x="141.8" y="22.0" font-size="5" text-anchor="middle" fill="#333" font-weight="normal" textLength="23.8" lengthAdjust="spacingAndGlyphs" stroke="#333" stroke-width="0.1">CPSS-Mol</text>
<circle cx="210.3" cy="28.10" r="1.25" fill="#3a98c0"/>
<text x="214.5" y="29.90" font-size="4.9" text-anchor="start" fill="#222" font-weight="normal" textLength="8.85" lengthAdjust="spacingAndGlyphs" stroke="#222" stroke-width="0.1">Low</text>
<circle cx="210.3" cy="33.82" r="1.25" fill="#a81838"/>
<text x="214.5" y="35.62" font-size="4.9" text-anchor="start" fill="#222" font-weight="normal" textLength="31.12" lengthAdjust="spacingAndGlyphs" stroke="#222" stroke-width="0.1">Intermediate-1</text>
<circle cx="210.3" cy="39.54" r="1.25" fill="#289028"/>
<text x="214.5" y="41.34" font-size="4.9" text-anchor="start" fill="#222" font-weight="normal" textLength="31.12" lengthAdjust="spacingAndGlyphs" stroke="#222" stroke-width="0.1">Intermediate-2</text>
<circle cx="210.3" cy="45.26" r="1.25" fill="#eaa820"/>
<text x="214.5" y="47.06" font-size="4.9" text-anchor="start" fill="#222" font-weight="normal" textLength="9.93" lengthAdjust="spacingAndGlyphs" stroke="#222" stroke-width="0.1">High</text>
<line x1="294" y1="86.85" x2="511.5" y2="86.85" stroke="#bbb" stroke-width="0.7" stroke-dasharray="1,1.2"/>
<path d="M297.30,144.30H311.80V143.60H314.20V142.30H315.80V140.80H318.50V140.00H321.90V137.70H322.70V135.80H359.10V128.30H382.40V114.00H455.50" fill="none" stroke="#5ab4dc" stroke-width="1.15" stroke-linejoin="miter"/>
<path d="M297.30,144.30H301.20V143.50H308.00V142.20H310.40V140.40H313.50V139.60H315.00V138.50H319.60V137.70H321.50V136.50H322.30V133.30H339.80V130.40H348.40V121.50H354.70V117.20H503.50" fill="none" stroke="#c0305a" stroke-width="1.15" stroke-linejoin="miter"/>
<path d="M297.30,144.30H300.00V143.80H302.40V142.90H308.30V141.50H310.40V140.20H312.70V138.50H315.00V136.20H317.30V134.60H319.60V133.50H321.90V131.50H324.20V130.80H326.50V129.20H328.10V126.90H331.20V125.80H333.50V125.00H336.30V123.90H339.50V121.70H342.70V120.60H344.05V118.75H345.40V116.90H349.20V114.60H352.30V113.10H354.60V110.80H356.20V107.70H357.35V105.60H358.50V103.50H372.60V94.60H379.20V89.20H380.00V87.10H380.80V85.00H399.80V74.20H503.50" fill="none" stroke="#4aaa4a" stroke-width="1.15" stroke-linejoin="miter"/>
<path d="M297.30,144.30H300.50V142.80H302.70V141.50H305.00V139.20H307.30V138.50H308.80V135.40H309.60V133.45H310.40V131.50H311.90V128.50H312.70V126.55H313.50V124.60H315.00V121.20H322.80V119.00H323.33V117.03H323.87V115.07H324.40V113.10H326.00V101.30H328.20V100.70H329.00V98.30H329.80V95.90H331.90V93.70H332.75V91.30H333.60V88.90H334.60V86.20H335.45V83.50H336.30V80.80H336.70V78.55H337.10V76.30H367.40V53.20H376.20V37.10H377.47V34.67H378.73V32.23H380.00V29.80H415.30" fill="none" stroke="#f0c83a" stroke-width="1.15" stroke-linejoin="miter"/>
<text x="403.7" y="22.0" font-size="5" text-anchor="middle" fill="#333" font-weight="normal" textLength="23.4" lengthAdjust="spacingAndGlyphs" stroke="#333" stroke-width="0.1">CPSS-Mol</text>
<circle cx="472.9" cy="28.10" r="1.25" fill="#3a98c0"/>
<text x="477.09999999999997" y="29.90" font-size="4.9" text-anchor="start" fill="#222" font-weight="normal" textLength="8.85" lengthAdjust="spacingAndGlyphs" stroke="#222" stroke-width="0.1">Low</text>
<circle cx="472.9" cy="33.82" r="1.25" fill="#a81838"/>
<text x="477.09999999999997" y="35.62" font-size="4.9" text-anchor="start" fill="#222" font-weight="normal" textLength="31.12" lengthAdjust="spacingAndGlyphs" stroke="#222" stroke-width="0.1">Intermediate-1</text>
<circle cx="472.9" cy="39.54" r="1.25" fill="#289028"/>
<text x="477.09999999999997" y="41.34" font-size="4.9" text-anchor="start" fill="#222" font-weight="normal" textLength="31.12" lengthAdjust="spacingAndGlyphs" stroke="#222" stroke-width="0.1">Intermediate-2</text>
<circle cx="472.9" cy="45.26" r="1.25" fill="#eaa820"/>
<text x="477.09999999999997" y="47.06" font-size="4.9" text-anchor="start" fill="#222" font-weight="normal" textLength="9.93" lengthAdjust="spacingAndGlyphs" stroke="#222" stroke-width="0.1">High</text>
<line x1="51.5" y1="197" x2="51.5" y2="314" stroke="#ead8c4" stroke-width="0.7" opacity="1"/>
<line x1="60.5" y1="197" x2="60.5" y2="314" stroke="#b4bcdc" stroke-width="1" stroke-dasharray="1,1" opacity="1"/>
<line x1="71.2" y1="197" x2="71.2" y2="314" stroke="#efe2c4" stroke-width="0.7" opacity="1"/>
<line x1="91.4" y1="197" x2="91.4" y2="314" stroke="#b8d4bc" stroke-width="0.6" opacity="1"/>
<line x1="108.5" y1="197" x2="108.5" y2="314" stroke="#d898a8" stroke-width="1" stroke-dasharray="1,1" opacity="1"/>
<path d="M36.30,196.90H53.50V203.20H66.00V211.20H97.80V223.80H106.20V253.20H249.20" fill="none" stroke="#5bbce0" stroke-width="1.15" stroke-linejoin="miter"/>
<path d="M36.30,196.90H40.50V198.50H43.00V199.80H47.50V201.10H49.20V203.10H51.20V204.80H53.20V206.50H55.20V207.50H56.90V208.50H59.20V209.20H61.30V210.20H66.60V210.80H67.60V212.50H69.90V214.80H72.20V217.10H74.50V218.30H76.80V220.60H78.00V223.50H79.20V225.80H81.50V226.90H83.80V229.80H86.10V232.70H88.40V234.20H89.35V235.95H90.30V237.70H93.80V238.80H94.35V241.15H94.90V243.50H96.10V245.20H99.50V246.30H100.10V248.10H107.60V251.50H108.20V253.25H108.80V255.00H112.20V255.60H113.40V258.50H128.40V263.20H130.35V265.65H132.30V268.10H132.85V270.55H133.40V273.00H153.80V278.40H167.70V285.30H200.80V298.50H204.60" fill="none" stroke="#c0305a" stroke-width="1.15" stroke-linejoin="miter"/>
<path d="M36.30,196.90H40.00V198.00H44.10V198.70H44.80V200.70H45.80V203.40H46.80V206.10H48.80V207.80H51.20V208.50H53.20V210.80H53.90V212.20H60.30V213.50H61.30V215.60H62.40V217.70H63.60V220.60H64.45V222.60H65.30V224.60H66.15V226.35H67.00V228.10H68.80V230.40H71.10V233.50H72.25V235.80H73.40V238.10H74.55V240.40H75.70V242.70H76.55V244.70H77.40V246.70H85.50V250.00H91.30V256.20H92.60V259.60H94.30V261.90H96.05V264.45H97.80V267.00H103.00V268.90H105.90V271.80H106.45V273.55H107.00V275.30H112.20V275.80H113.10V277.55H114.00V279.30H117.40V280.50H118.00V282.50H118.60V284.50H134.50V291.00H138.60V298.20H166.20V305.00H249.20" fill="none" stroke="#4aaa4a" stroke-width="1.15" stroke-linejoin="miter"/>
<path d="M36.30,196.90H40.00V199.00H43.10V202.10H44.80V204.80H46.10V206.80H47.50V209.50H49.20V212.20H50.50V214.90H52.15V216.85H53.80V218.80H54.95V220.55H56.10V222.30H57.25V224.05H58.40V225.80H60.70V229.20H61.55V231.25H62.40V233.30H63.00V235.80H64.15V238.65H65.30V241.50H66.45V243.85H67.60V246.20H68.75V248.20H69.90V250.20H70.80V252.20H71.70V254.20H72.55V256.50H73.40V258.80H74.55V260.55H75.70V262.30H76.85V264.90H78.00V267.50H81.50V269.80H84.90V272.50H89.20V274.00H89.37V276.17H89.53V278.33H89.70V280.50H103.90V286.80H108.50V293.20H116.00V296.80H121.20V305.30H148.50" fill="none" stroke="#f2d060" stroke-width="1.15" stroke-linejoin="miter"/>
<path d="M36.30,196.90H37.70V199.40H39.70V202.10H41.40V204.10H42.40V206.80H43.40V208.80H44.40V210.80H45.40V213.50H46.50V216.20H46.95V218.10H47.40V220.00H48.00V221.93H48.60V223.87H49.20V225.80H49.75V227.90H50.30V230.00H50.70V231.93H51.10V233.87H51.50V235.80H53.80V239.20H54.95V240.95H56.10V242.70H56.95V245.00H57.80V247.30H58.37V249.23H58.93V251.17H59.50V253.10H60.10V255.20H60.70V257.30H61.30V259.40H61.85V261.70H62.40V264.00H73.00V271.50H76.80V273.50H78.55V275.60H80.30V277.70H83.20V279.40H83.75V281.45H84.30V283.50H85.20V286.35H86.10V289.20H86.40V291.25H86.70V293.30H108.20V299.50H123.20" fill="none" stroke="#2c4a90" stroke-width="1.15" stroke-linejoin="miter"/>
<path d="M36.30,196.90H38.70V199.40H39.40V202.10H39.70V205.50H40.20V207.50H40.70V209.50H41.70V212.20H42.40V214.90H43.10V217.60H44.50V220.00H45.40V222.30H46.30V224.60H46.85V226.90H47.40V229.20H47.60V231.77H47.80V234.33H48.00V236.90H48.30V238.93H48.60V240.95H48.90V242.97H49.20V245.00H49.57V246.93H49.93V248.87H50.30V250.80H51.15V253.65H52.00V256.50H52.60V258.43H53.20V260.37H53.80V262.30H54.37V264.23H54.93V266.17H55.50V268.10H56.35V270.30H57.20V272.50H57.97V274.60H58.73V276.70H59.50V278.80H60.70V288.10H62.40V299.20H77.70V303.70H111.70V311.60" fill="none" stroke="#eea640" stroke-width="1.15" stroke-linejoin="miter"/>
<text x="50.6" y="196.1" font-size="5" text-anchor="middle" fill="#333" font-weight="normal" stroke="#333" stroke-width="0.1">1.1</text>
<text x="59.4" y="196.1" font-size="5" text-anchor="middle" fill="#333" font-weight="normal" stroke="#333" stroke-width="0.1">1.7</text>
<text x="71.3" y="196.1" font-size="5" text-anchor="middle" fill="#333" font-weight="normal" stroke="#333" stroke-width="0.1">2.5</text>
<text x="91.5" y="196.1" font-size="5" text-anchor="middle" fill="#333" font-weight="normal" stroke="#333" stroke-width="0.1">3.9</text>
<text x="107.8" y="196.1" font-size="5" text-anchor="middle" fill="#333" font-weight="normal" stroke="#333" stroke-width="0.1">5.1</text>
<text x="244.5" y="252.2" font-size="5" text-anchor="middle" fill="#222" font-weight="normal" stroke="#222" stroke-width="0.1">18.5</text>
<text x="142.4" y="189.8" font-size="5" text-anchor="middle" fill="#333" font-weight="normal" textLength="17.0" lengthAdjust="spacingAndGlyphs" stroke="#333" stroke-width="0.1">IPSS-M</text>
<circle cx="210.8" cy="195.30" r="1.25" fill="#30a0c0"/>
<text x="215.0" y="197.10" font-size="4.9" text-anchor="start" fill="#222" font-weight="normal" textLength="19.85" lengthAdjust="spacingAndGlyphs" stroke="#222" stroke-width="0.1">Very Low</text>
<circle cx="210.8" cy="201.40" r="1.25" fill="#a81838"/>
<text x="215.0" y="203.20" font-size="4.9" text-anchor="start" fill="#222" font-weight="normal" textLength="8.85" lengthAdjust="spacingAndGlyphs" stroke="#222" stroke-width="0.1">Low</text>
<circle cx="210.8" cy="207.50" r="1.25" fill="#289028"/>
<text x="215.0" y="209.30" font-size="4.9" text-anchor="start" fill="#222" font-weight="normal" textLength="30.58" lengthAdjust="spacingAndGlyphs" stroke="#222" stroke-width="0.1">Moderate Low</text>
<circle cx="210.8" cy="213.60" r="1.25" fill="#e8c040"/>
<text x="215.0" y="215.40" font-size="4.9" text-anchor="start" fill="#222" font-weight="normal" textLength="31.66" lengthAdjust="spacingAndGlyphs" stroke="#222" stroke-width="0.1">Moderate High</text>
<circle cx="210.8" cy="219.70" r="1.25" fill="#102060"/>
<text x="215.0" y="221.50" font-size="4.9" text-anchor="start" fill="#222" font-weight="normal" textLength="9.93" lengthAdjust="spacingAndGlyphs" stroke="#222" stroke-width="0.1">High</text>
<circle cx="210.8" cy="225.80" r="1.25" fill="#e09050"/>
<text x="215.0" y="227.60" font-size="4.9" text-anchor="start" fill="#222" font-weight="normal" textLength="20.92" lengthAdjust="spacingAndGlyphs" stroke="#222" stroke-width="0.1">Very High</text>
<line x1="294" y1="254.25" x2="511.5" y2="254.25" stroke="#bbb" stroke-width="0.7" stroke-dasharray="1,1.2"/>
<path d="M297.30,311.60H320.00V303.80H512.00" fill="none" stroke="#5bbce0" stroke-width="1.15" stroke-linejoin="miter"/>
<path d="M297.30,311.60H306.00V311.00H313.00V310.30H316.00V309.10H318.70V307.50H323.40V305.60H326.90V304.40H332.80V303.20H336.40V302.10H338.10V300.50H340.80V299.10H346.20V297.80H359.60V292.80H373.70V288.40H474.00" fill="none" stroke="#c0305a" stroke-width="1.15" stroke-linejoin="miter"/>
<path d="M297.30,311.60H305.00V311.00H315.20V309.10H318.70V306.80H322.20V304.40H324.60V300.90H326.90V297.40H329.30V295.20H331.60V293.20H336.00V290.60H349.50V287.00H355.60V278.30H357.60V273.60H379.10V264.10H383.80V254.70H400.40V240.50H510.00" fill="none" stroke="#4aaa4a" stroke-width="1.15" stroke-linejoin="miter"/>
<path d="M297.30,311.60H305.00V311.00H310.00V310.30H314.00V309.00H317.50V306.80H321.10V304.40H323.40V301.50H325.80V297.40H327.50V292.60H329.30V289.10H331.30V283.50H333.40V276.50H335.40V270.50H337.40V266.20H339.40V262.80H343.80V260.80H346.20V256.20H347.90V254.40H353.20V247.00H368.10V234.60H380.40V217.40H415.50V196.90" fill="none" stroke="#f2d060" stroke-width="1.15" stroke-linejoin="miter"/>
<path d="M297.30,311.60H300.60V309.30H303.70V307.80H307.90V304.30H308.30V302.00H308.70V299.70H309.25V297.60H309.80V295.50H310.83V293.57H311.87V291.63H312.90V289.70H313.90V286.50H315.60V283.60H317.35V281.55H319.10V279.50H320.20V277.20H321.40V275.50H322.00V273.80H323.70V272.60H323.98V270.50H324.25V268.40H324.52V266.30H324.80V264.20H336.20V258.50H348.90V243.00H350.30V222.20H373.20V200.00H379.60V196.70H388.80" fill="none" stroke="#2c4a90" stroke-width="1.15" stroke-linejoin="miter"/>
<path d="M297.30,311.60H300.60V309.70H303.30V306.60H308.30V302.80H308.70V300.10H309.10V297.40H309.60V295.30H310.30V293.20H311.00V291.10H311.85V289.05H312.70V287.00H312.90V284.90H313.10V282.80H313.30V280.70H313.55V278.60H313.80V276.50H314.05V274.40H314.30V272.30H323.80V270.30H324.20V247.20H376.50V196.90" fill="none" stroke="#eea640" stroke-width="1.15" stroke-linejoin="miter"/>
<text x="403.3" y="189.8" font-size="5" text-anchor="middle" fill="#333" font-weight="normal" textLength="16.8" lengthAdjust="spacingAndGlyphs" stroke="#333" stroke-width="0.1">IPSS-M</text>
<circle cx="469.2" cy="195.30" r="1.25" fill="#30a0c0"/>
<text x="473.4" y="197.10" font-size="4.9" text-anchor="start" fill="#222" font-weight="normal" textLength="19.85" lengthAdjust="spacingAndGlyphs" stroke="#222" stroke-width="0.1">Very Low</text>
<circle cx="469.2" cy="201.40" r="1.25" fill="#a81838"/>
<text x="473.4" y="203.20" font-size="4.9" text-anchor="start" fill="#222" font-weight="normal" textLength="8.85" lengthAdjust="spacingAndGlyphs" stroke="#222" stroke-width="0.1">Low</text>
<circle cx="469.2" cy="207.50" r="1.25" fill="#289028"/>
<text x="473.4" y="209.30" font-size="4.9" text-anchor="start" fill="#222" font-weight="normal" textLength="30.58" lengthAdjust="spacingAndGlyphs" stroke="#222" stroke-width="0.1">Moderate Low</text>
<circle cx="469.2" cy="213.60" r="1.25" fill="#e8c040"/>
<text x="473.4" y="215.40" font-size="4.9" text-anchor="start" fill="#222" font-weight="normal" textLength="31.66" lengthAdjust="spacingAndGlyphs" stroke="#222" stroke-width="0.1">Moderate High</text>
<circle cx="469.2" cy="219.70" r="1.25" fill="#102060"/>
<text x="473.4" y="221.50" font-size="4.9" text-anchor="start" fill="#222" font-weight="normal" textLength="9.93" lengthAdjust="spacingAndGlyphs" stroke="#222" stroke-width="0.1">High</text>
<circle cx="469.2" cy="225.80" r="1.25" fill="#e09050"/>
<text x="473.4" y="227.60" font-size="4.9" text-anchor="start" fill="#222" font-weight="normal" textLength="20.92" lengthAdjust="spacingAndGlyphs" stroke="#222" stroke-width="0.1">Very High</text>
<line x1="61.3" y1="364.5" x2="61.3" y2="482" stroke="#ece0b8" stroke-width="0.7" opacity="1"/>
<line x1="74.5" y1="365" x2="74.5" y2="482" stroke="#a8c8a8" stroke-width="1" stroke-dasharray="1,1" opacity="1"/>
<line x1="94.5" y1="365" x2="94.5" y2="482" stroke="#c87890" stroke-width="1" stroke-dasharray="1,1" opacity="1"/>
<line x1="118.3" y1="364.5" x2="118.3" y2="482" stroke="#b0c0e0" stroke-width="0.6" opacity="1"/>
<path d="M36.30,364.50H36.50V365.50H38.00V367.50H39.50V369.50H41.00V371.30H48.00V375.30H67.20V379.80H71.00V384.40H78.20V390.20H84.50V396.00H98.40V402.30H107.00V409.20H108.20V415.00H118.30V422.50H132.20V432.10H138.50V441.20H168.20V455.00H169.00" fill="none" stroke="#5ab4dc" stroke-width="1.15" stroke-linejoin="miter"/>
<path d="M36.30,364.50H45.60V367.70H47.50V368.70H49.20V370.10H50.50V371.80H53.20V372.80H55.90V373.50H57.90V374.10H59.20V375.10H61.30V376.20H62.60V377.80H64.00V379.50H65.30V381.50H66.60V383.60H67.05V385.45H67.50V387.30H70.40V390.20H73.80V392.50H75.60V394.80H76.45V396.80H77.30V398.80H78.50V401.20H81.30V401.70H84.20V403.50H86.50V404.00H88.30V406.30H89.40V409.20H90.50V411.50H90.83V413.63H91.17V415.77H91.50V417.90H92.90V420.20H94.30V422.50H99.50V424.20H106.20V424.60H107.70V427.70H109.20V429.80H112.80V430.30H113.40V433.05H114.00V435.80H116.30V438.70H128.40V443.30H133.80V448.60H154.20V455.00H240.00" fill="none" stroke="#c0305a" stroke-width="1.15" stroke-linejoin="miter"/>
<line x1="240.4" y1="455.0" x2="248.8" y2="455.0" stroke="#707c84" stroke-width="1.15"/>
<path d="M36.30,364.50H38.00V365.00H40.40V366.10H43.40V367.40H44.80V369.40H45.80V372.10H46.80V374.80H47.80V378.20H48.80V380.90H49.80V383.60H51.00V387.00H51.50V389.00H52.00V391.00H52.60V393.00H53.20V395.00H54.65V396.75H56.10V398.50H58.40V401.30H59.55V403.05H60.70V404.80H62.40V407.70H65.30V410.60H67.60V413.50H69.90V415.20H72.80V416.30H73.40V418.35H74.00V420.40H75.40V423.80H76.95V426.15H78.50V428.50H80.00V431.15H81.50V433.80H83.05V436.15H84.60V438.50H86.90V440.80H94.50V443.00H96.00V445.00H97.50V447.00H103.80V448.60H105.00V450.55H106.20V452.50H107.20V454.35H108.20V456.20H110.00V459.50H121.30V464.50H166.20V472.30H201.30V479.20" fill="none" stroke="#4aaa4a" stroke-width="1.15" stroke-linejoin="miter"/>
<path d="M36.30,364.50H37.00V365.40H38.40V367.40H39.70V370.80H40.40V372.80H41.10V374.80H41.75V376.80H42.40V378.80H44.10V381.50H45.80V383.60H47.10V386.00H47.80V388.00H48.50V390.00H49.40V392.50H50.30V395.00H51.75V396.75H53.20V398.50H54.35V400.80H55.50V403.10H56.65V405.40H57.80V407.70H58.65V410.00H59.50V412.30H59.90V414.23H60.30V416.17H60.70V418.10H61.25V420.95H61.80V423.80H62.70V425.85H63.60V427.90H66.50V430.20H72.80V432.50H74.00V435.40H76.80V437.10H79.20V438.80H80.00V440.00H84.60V442.30H85.40V444.25H86.20V446.20H95.00V450.30H103.20V454.80H107.50V456.20H108.50V458.20H109.50V460.20H110.85V462.50H112.20V464.80H134.80V472.30H148.50" fill="none" stroke="#f0c83a" stroke-width="1.15" stroke-linejoin="miter"/>
<text x="61.4" y="362.9" font-size="5" text-anchor="middle" fill="#333" font-weight="normal" stroke="#333" stroke-width="0.1">1.8</text>
<text x="74.3" y="362.9" font-size="5" text-anchor="middle" fill="#333" font-weight="normal" stroke="#333" stroke-width="0.1">2.7</text>
<text x="93.8" y="362.9" font-size="5" text-anchor="middle" fill="#333" font-weight="normal" stroke="#333" stroke-width="0.1">4.1</text>
<text x="118.2" y="362.9" font-size="5" text-anchor="middle" fill="#333" font-weight="normal" stroke="#333" stroke-width="0.1">5.8</text>
<text x="142.6" y="356.6" font-size="5" text-anchor="middle" fill="#333" font-weight="normal" textLength="35.2" lengthAdjust="spacingAndGlyphs" stroke="#333" stroke-width="0.1">Mayo Molecular</text>
<circle cx="210.9" cy="361.90" r="1.25" fill="#3a98c0"/>
<text x="215.1" y="363.70" font-size="4.9" text-anchor="start" fill="#222" font-weight="normal" textLength="8.85" lengthAdjust="spacingAndGlyphs" stroke="#222" stroke-width="0.1">Low</text>
<circle cx="210.9" cy="367.62" r="1.25" fill="#a81838"/>
<text x="215.1" y="369.42" font-size="4.9" text-anchor="start" fill="#222" font-weight="normal" textLength="31.12" lengthAdjust="spacingAndGlyphs" stroke="#222" stroke-width="0.1">Intermediate-1</text>
<circle cx="210.9" cy="373.34" r="1.25" fill="#289028"/>
<text x="215.1" y="375.14" font-size="4.9" text-anchor="start" fill="#222" font-weight="normal" textLength="31.12" lengthAdjust="spacingAndGlyphs" stroke="#222" stroke-width="0.1">Intermediate-2</text>
<circle cx="210.9" cy="379.06" r="1.25" fill="#eaa820"/>
<text x="215.1" y="380.86" font-size="4.9" text-anchor="start" fill="#222" font-weight="normal" textLength="9.93" lengthAdjust="spacingAndGlyphs" stroke="#222" stroke-width="0.1">High</text>
<line x1="294" y1="421.85" x2="513" y2="421.85" stroke="#bbb" stroke-width="0.7" stroke-dasharray="1,1.2"/>
<path d="M297.30,479.20H302.90V478.30H307.10V477.60H309.80V475.50H310.65V473.15H311.50V470.80H331.40V465.60H378.30V454.20H508.20" fill="none" stroke="#5ab4dc" stroke-width="1.15" stroke-linejoin="miter"/>
<path d="M297.30,479.20H307.10V478.00H311.20V474.80H318.90V473.10H325.60V471.50H331.30V470.30H333.50V467.60H337.50V464.60H348.30V461.00H351.00V459.50H351.43V457.50H351.87V455.50H352.30V453.50H352.95V451.45H353.60V449.40H369.60V444.10H374.50V438.40H375.27V436.27H376.03V434.13H376.80V432.00H508.20" fill="none" stroke="#c0305a" stroke-width="1.15" stroke-linejoin="miter"/>
<path d="M297.30,479.20H301.50V476.90H306.40V476.60H309.20V474.90H311.20V472.10H312.60V469.30H314.70V467.20H316.80V465.90H318.90V463.80H320.25V462.05H321.60V460.30H322.65V458.55H323.70V456.80H326.70V454.80H329.40V452.10H333.50V449.40H335.50V447.50H337.30V444.20H343.50V437.90H345.25V435.55H347.00V433.20H356.20V427.30H364.80V422.30H370.00V414.70H376.30V406.50H461.20" fill="none" stroke="#4aaa4a" stroke-width="1.15" stroke-linejoin="miter"/>
<path d="M297.30,479.20H301.50V475.90H305.70V475.20H307.80V472.80H308.80V470.70H311.50V468.00H314.00V465.20H316.10V464.10H318.90V463.10H320.90V461.00H322.30V458.20H322.90V456.00H323.50V453.80H324.10V451.60H324.70V449.40H325.07V447.10H325.43V444.80H325.80V442.50H333.30V438.50H346.30V432.80H372.00V409.00H395.30V380.40H409.10V364.50" fill="none" stroke="#f0c83a" stroke-width="1.15" stroke-linejoin="miter"/>
<text x="403.6" y="356.8" font-size="5" text-anchor="middle" fill="#333" font-weight="normal" textLength="35.2" lengthAdjust="spacingAndGlyphs" stroke="#333" stroke-width="0.1">Mayo Molecular</text>
<circle cx="469.5" cy="361.90" r="1.25" fill="#3a98c0"/>
<text x="473.7" y="363.70" font-size="4.9" text-anchor="start" fill="#222" font-weight="normal" textLength="8.85" lengthAdjust="spacingAndGlyphs" stroke="#222" stroke-width="0.1">Low</text>
<circle cx="469.5" cy="367.75" r="1.25" fill="#a81838"/>
<text x="473.7" y="369.55" font-size="4.9" text-anchor="start" fill="#222" font-weight="normal" textLength="31.12" lengthAdjust="spacingAndGlyphs" stroke="#222" stroke-width="0.1">Intermediate-1</text>
<circle cx="469.5" cy="373.60" r="1.25" fill="#289028"/>
<text x="473.7" y="375.40" font-size="4.9" text-anchor="start" fill="#222" font-weight="normal" textLength="31.12" lengthAdjust="spacingAndGlyphs" stroke="#222" stroke-width="0.1">Intermediate-2</text>
<circle cx="469.5" cy="379.45" r="1.25" fill="#eaa820"/>
<text x="473.7" y="381.25" font-size="4.9" text-anchor="start" fill="#222" font-weight="normal" textLength="9.93" lengthAdjust="spacingAndGlyphs" stroke="#222" stroke-width="0.1">High</text>
<line x1="0" y1="0.5" x2="520" y2="0.5" stroke="#666" stroke-width="1.1"/>
<line x1="0.5" y1="0" x2="0.5" y2="510" stroke="#666" stroke-width="1.1"/>
<line x1="0" y1="509.5" x2="520" y2="509.5" stroke="#333" stroke-width="1.1"/>
<line x1="519.5" y1="0" x2="519.5" y2="510" stroke="#333" stroke-width="1.1"/>
</svg></body></html>
